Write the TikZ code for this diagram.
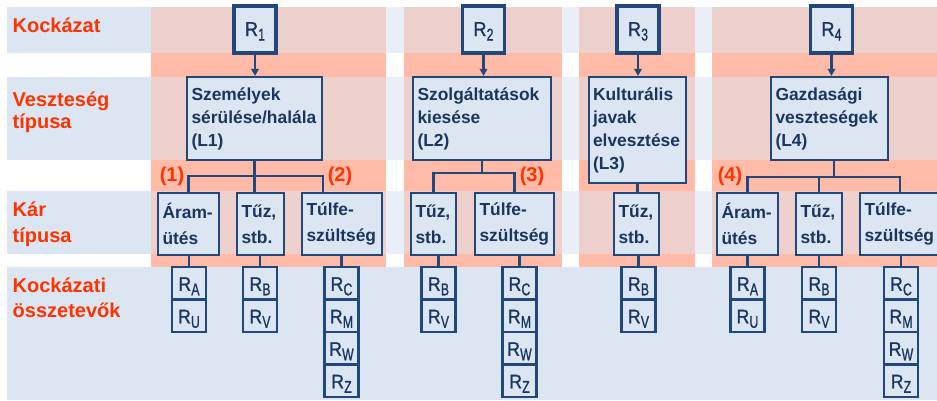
\documentclass[tikz,border=0pt]{standalone}
\usepackage{fontspec}
\setmainfont{Liberation Sans}
\newfontfamily\rfont[FakeBold=1.2]{Liberation Sans}
\usepackage{graphicx}
\usetikzlibrary{arrows.meta}
\definecolor{bandL}{HTML}{DCE6F2}
\definecolor{bandM}{HTML}{EAEFF7}
\definecolor{pinkB}{HTML}{EDD0CC}
\definecolor{salmonC}{HTML}{FFBBA8}
\definecolor{boxfill}{HTML}{DCE6F2}
\definecolor{boxline}{HTML}{22477A}
\definecolor{boxtext}{HTML}{1A365F}
\definecolor{lblred}{HTML}{FF3300}
\newcommand\Rs[1]{\scalebox{0.9}[1]{R}\kern0.2pt\raisebox{-4.5pt}{\scalebox{0.72}[1]{\fontsize{17}{17}\selectfont #1}}}
\begin{document}
\begin{tikzpicture}[x=1pt,y=-1pt,
  rbox/.style={draw=boxline, fill=boxfill, line width=3.2pt, minimum width=42pt, minimum height=47pt, inner sep=0pt, text=boxtext, font=\rfont\fontsize{20}{22}\selectfont, text height=13pt, text depth=0pt},
  lbox/.style={draw=boxline, fill=boxfill, line width=2.2pt, text=boxtext, font=\bfseries\fontsize{17.4}{23}\selectfont, execute at begin node={\hyphenpenalty=10000\relax}, align=left, inner xsep=4.5pt, inner ysep=0pt, minimum height=83pt},
  kbox/.style={draw=boxline, fill=boxfill, line width=2.2pt, text=boxtext, font=\bfseries\fontsize{17.4}{26}\selectfont, execute at begin node={\hyphenpenalty=10000\relax}, align=left, inner xsep=4.5pt, inner ysep=0pt, minimum height=62pt},
  cell/.style={draw=boxline, fill=boxfill, line width=2.8pt, minimum width=34pt, minimum height=32.5pt, inner sep=0pt, text=boxtext, font=\rfont\fontsize{19.5}{21}\selectfont, text height=15pt, text depth=0pt},
  conn/.style={draw=boxline, line width=2.2pt},
  arr/.style={conn, -{Triangle[length=7pt,width=7.5pt]}},
  num/.style={text=lblred, font=\bfseries\fontsize{20}{24}\selectfont, inner sep=0pt},
  lab/.style={text=lblred, font=\bfseries\fontsize{20}{24}\selectfont, inner sep=0pt, anchor=base west}
]
\useasboundingbox (0,0) rectangle (937,400);
\clip (0,0) rectangle (937,400);
% background bands
\foreach \c/\d in {7/53,77/160,191/254} {
  \fill[bandM] (151,\c) rectangle (937,\d);
  \fill[bandL] (7,\c) rectangle (151,\d);
}
\fill[bandL] (7,267) rectangle (937,400);
% column panels
\foreach \a/\b in {151/386,404/562,579/695,712/937} {
  \fill[salmonC] (\a,7) rectangle (\b,267);
  \foreach \c/\d in {7/53,77/160,191/254}
    \fill[pinkB] (\a,\c) rectangle (\b,\d);
}
% row labels
\node[lab] (k1) at (12.5,32.5) {Kockázat};
\node[lab] (v1) at (12.5,106) {Veszteség};
\node[lab] (v2) at (12.5,128) {típusa};
\node[lab] (t1) at (12.5,216) {Kár};
\node[lab] (t2) at (12.5,242) {típusa};
\node[lab] (o1) at (12.5,292) {Kockázati};
\node[lab] (o2) at (12.5,317) {összetevők};
% risk boxes
\node[rbox] (R1) at (255,29.5) {\Rs{1}};
\node[rbox] (R2) at (483.5,29.5) {\Rs{2}};
\node[rbox] (R3) at (638,29.5) {\Rs{3}};
\node[rbox] (R4) at (831.5,29.5) {\Rs{4}};
% loss type boxes
\node[lbox, text width=126pt] (L1) at (254.5,118.5) {Személyek\\sérülése/halála\\(L1)};
\node[lbox, text width=129pt] (L2) at (482,118.5) {Szolgáltatások\\kiesése\\(L2)};
\node[lbox, text width=89pt, inner xsep=4pt, minimum height=106pt] (L3) at (637.5,130) {Kulturális\\javak\\elvesztése\\(L3)};
\node[lbox, text width=108pt] (L4) at (829.5,118.5) {Gazdasági\\veszteségek\\(L4)};
% damage type boxes
\node[kbox, text width=52pt] (A1) at (188.5,224) {Áram-\\ütés};
\node[kbox, text width=38pt] (T1) at (260.5,224) {Tűz,\\stb.};
\node[kbox, text width=71pt] (F1) at (342,224) {Túlfe-\\szültség};
\node[kbox, text width=36pt] (T2) at (433.5,224) {Tűz,\\stb.};
\node[kbox, text width=70pt] (F2) at (514.5,224) {Túlfe-\\szültség};
\node[kbox, text width=36pt] (T3) at (636.5,224) {Tűz,\\stb.};
\node[kbox, text width=52pt] (A4) at (747.5,224) {Áram-\\ütés};
\node[kbox, text width=37pt] (T4) at (819,224) {Tűz,\\stb.};
\node[kbox, text width=71pt] (F4) at (900,224) {Túlfe-\\szültség};
% component stacks
\node[cell] (RA1) at (189,283.25) {\Rs{A}};
\node[cell] (RU1) at (189,315.75) {\Rs{U}};
\node[cell] (RB1) at (260,283.25) {\Rs{B}};
\node[cell] (RV1) at (260,315.75) {\Rs{V}};
\node[cell] (RC1) at (341.5,283.25) {\Rs{C}};
\node[cell] (RM1) at (341.5,315.75) {\Rs{M}};
\node[cell] (RW1) at (341.5,348.25) {\Rs{W}};
\node[cell] (RZ1) at (341.5,380.75) {\Rs{Z}};
\node[cell] (RB2) at (438.5,283.25) {\Rs{B}};
\node[cell] (RV2) at (438.5,315.75) {\Rs{V}};
\node[cell] (RC2) at (519.5,283.25) {\Rs{C}};
\node[cell] (RM2) at (519.5,315.75) {\Rs{M}};
\node[cell] (RW2) at (519.5,348.25) {\Rs{W}};
\node[cell] (RZ2) at (519.5,380.75) {\Rs{Z}};
\node[cell] (RB3) at (638.5,283.25) {\Rs{B}};
\node[cell] (RV3) at (638.5,315.75) {\Rs{V}};
\node[cell] (RA4) at (747.5,283.25) {\Rs{A}};
\node[cell] (RU4) at (747.5,315.75) {\Rs{U}};
\node[cell] (RB4) at (819,283.25) {\Rs{B}};
\node[cell] (RV4) at (819,315.75) {\Rs{V}};
\node[cell] (RC4) at (901,283.25) {\Rs{C}};
\node[cell] (RM4) at (901,315.75) {\Rs{M}};
\node[cell] (RW4) at (901,348.25) {\Rs{W}};
\node[cell] (RZ4) at (901,380.75) {\Rs{Z}};
% numbers
\node[num] (n1) at (172,176) {(1)};
\node[num] (n2) at (340,176) {(2)};
\node[num] (n3) at (532,176) {(3)};
\node[num] (n4) at (730,176) {(4)};
% arrows R -> L
\draw[arr] (R1.south) -- (R1.south |- L1.north);
\draw[arr] (R2.south) -- (R2.south |- L2.north);
\draw[arr] (R3.south) -- (R3.south |- L3.north);
\draw[arr] (R4.south) -- (R4.south |- L4.north);
% trees L -> damage types
\coordinate (b1) at (254.5,176);
\draw[conn] (A1.north) |- (b1) -| ([xshift=-19pt]F1.north);
\draw[conn] (L1.south) -- (L1.south |- T1.north);
\coordinate (b2) at (482,173);
\draw[conn] (T2.north) |- (b2) -| (F2.north);
\draw[conn] (L2.south) -- (b2);
\draw[conn] (L3.south) -- (L3.south |- T3.north);
\coordinate (b4) at (834,177);
\draw[conn] (A4.north) |- (b4) -| (F4.north);
\draw[conn] ([xshift=4.5pt]L4.south) -- (b4);
\draw[conn] (T4.north) -- (T4.north |- b4);
% damage types -> components
\draw[conn] (RA1.north) -- (RA1.north |- A1.south);
\draw[conn] (RB1.north) -- (RB1.north |- T1.south);
\draw[conn] (RC1.north) -- (RC1.north |- F1.south);
\draw[conn] (RB2.north) -- (RB2.north |- T2.south);
\draw[conn] (RC2.north) -- (RC2.north |- F2.south);
\draw[conn] (RB3.north) -- (RB3.north |- T3.south);
\draw[conn] (RA4.north) -- (RA4.north |- A4.south);
\draw[conn] (RB4.north) -- (RB4.north |- T4.south);
\draw[conn] (RC4.north) -- (RC4.north |- F4.south);
\end{tikzpicture}
\end{document}
